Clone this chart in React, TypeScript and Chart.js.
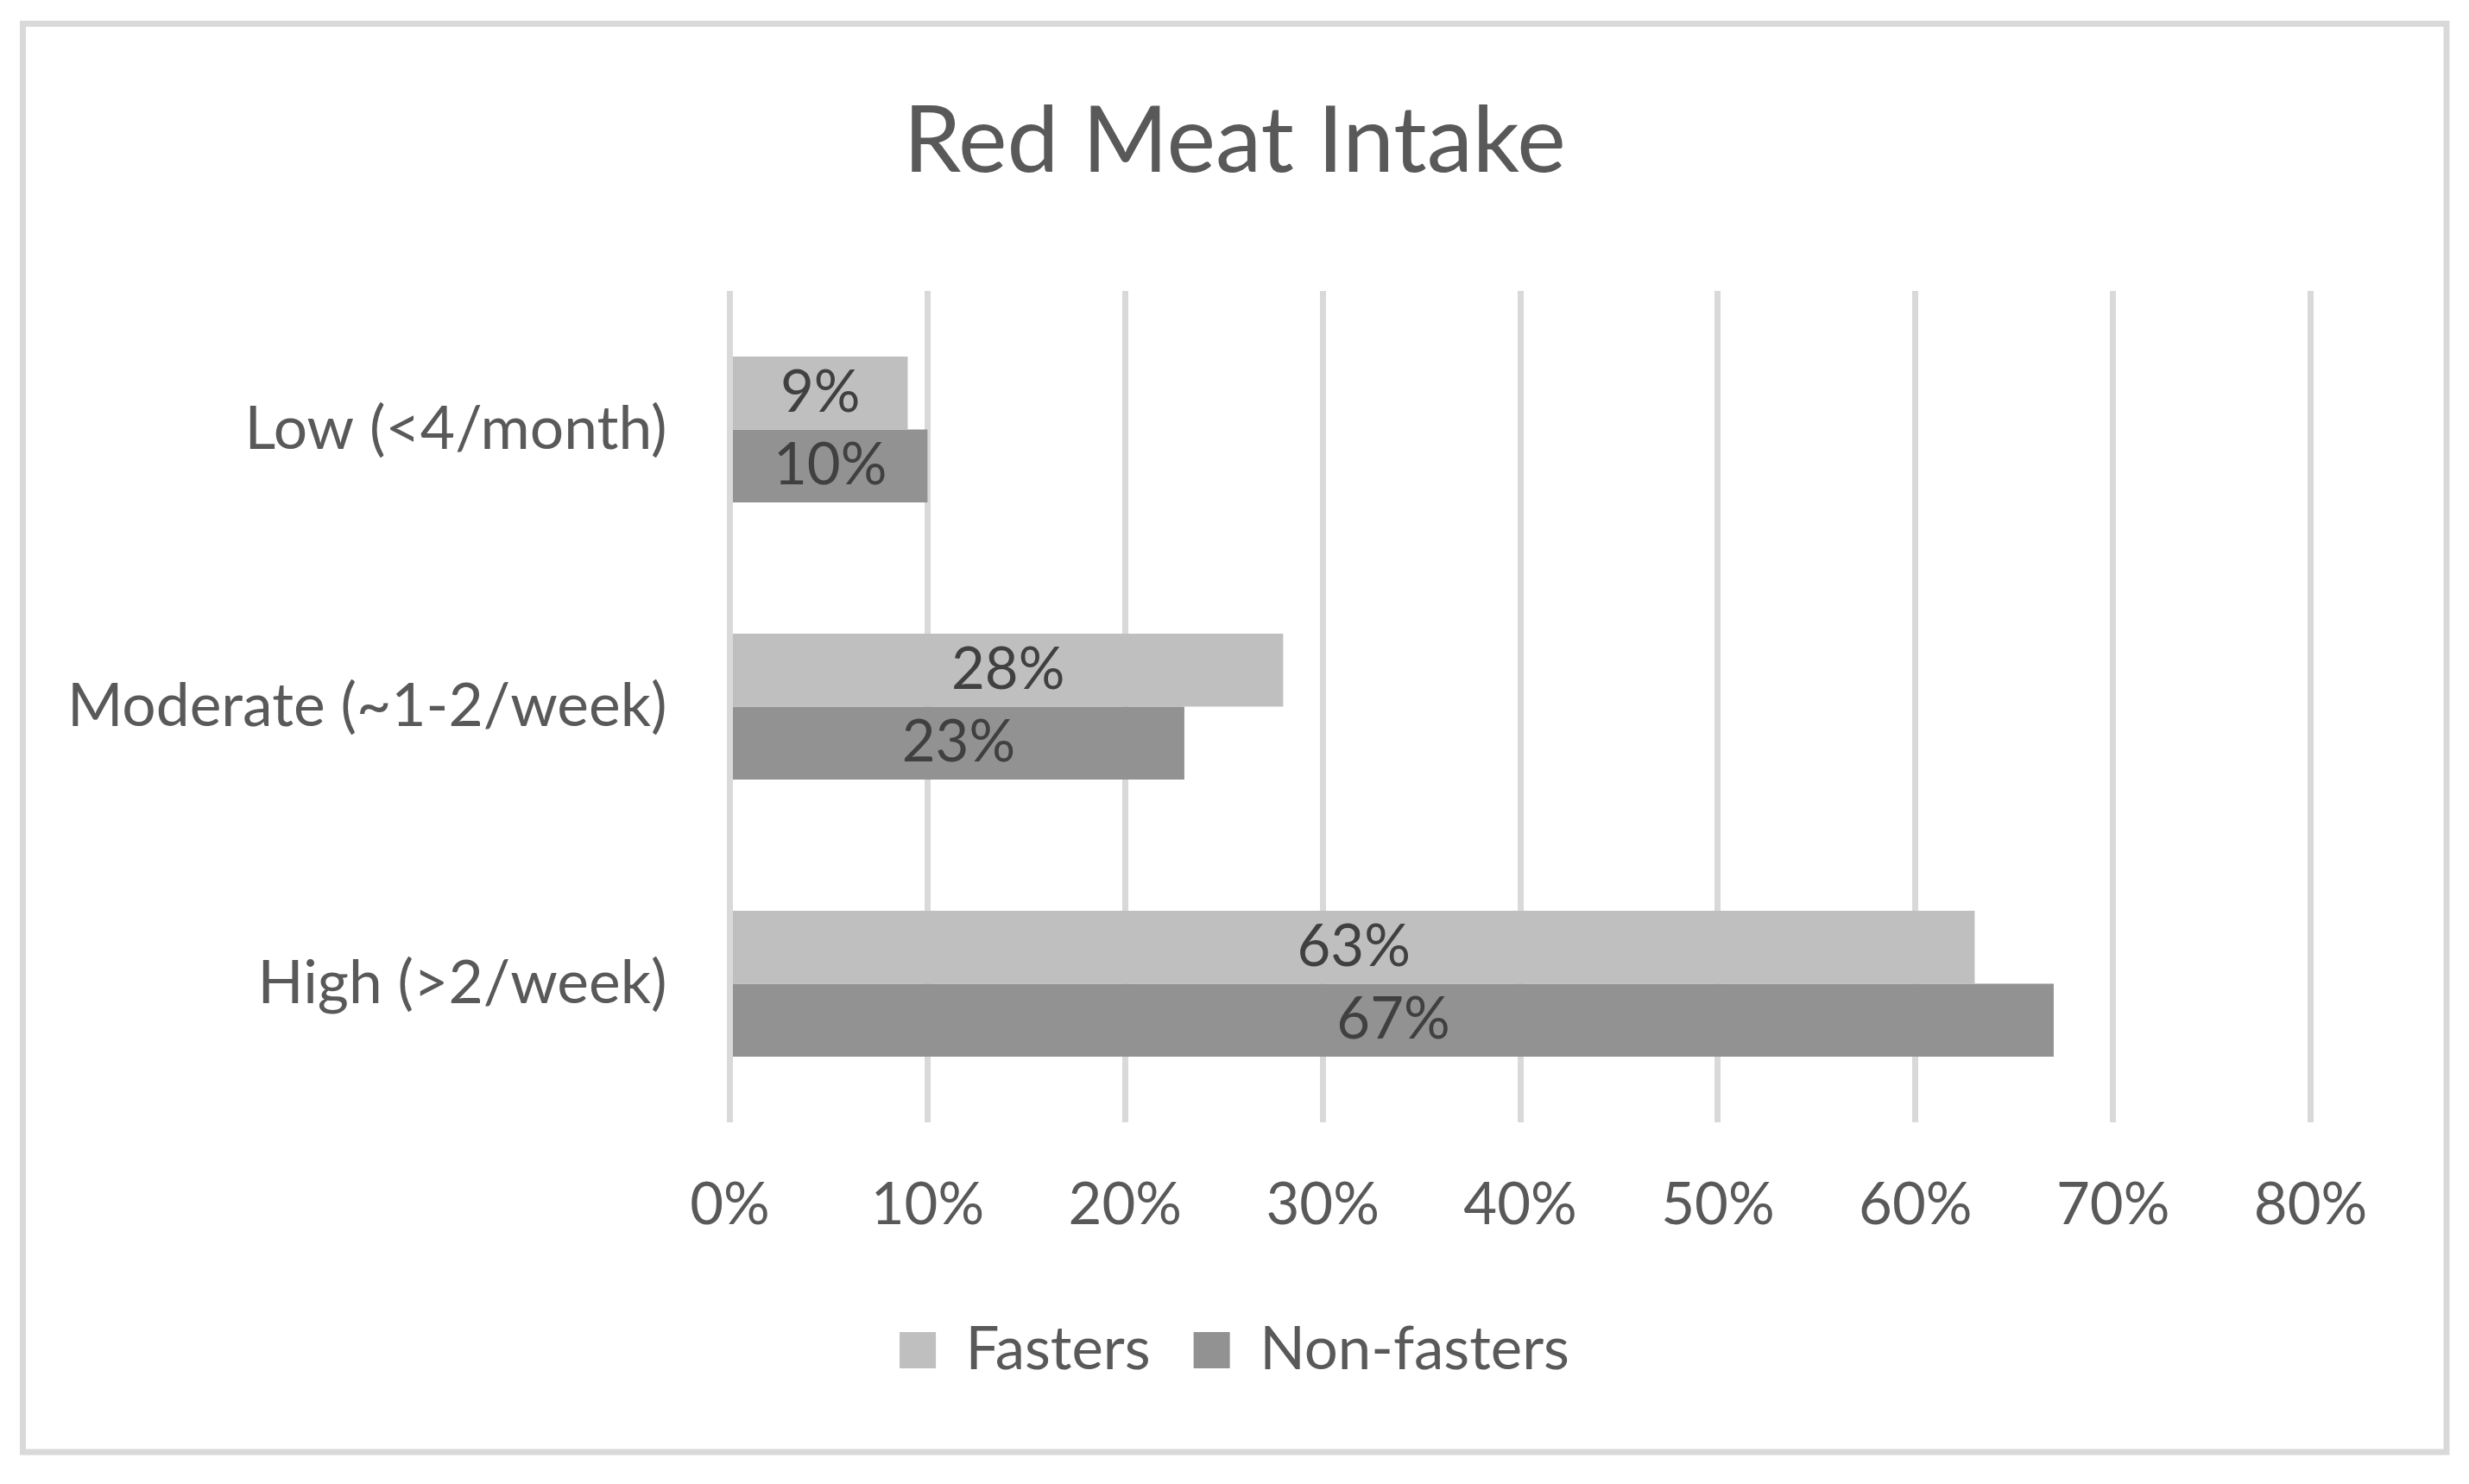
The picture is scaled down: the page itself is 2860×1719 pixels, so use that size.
import React, { useEffect, useRef } from "react";
import { Chart, registerables } from "chart.js";

Chart.register(...registerables);

const categories = ["Low (<4/month)", "Moderate (~1-2/week)", "High (>2/week)"];
const fasters = [9, 28, 63];
const nonFasters = [10, 23, 67];
const seriesNames = ["Fasters", "Non-fasters"];
const xTicksMax = 80;
const xTickStep = 10;

const FONT = "Lato";
const TEXT = "#595959";

const borderPlugin = {
  id: "outerBorder",
  afterDraw(chart: any) {
    const ctx = chart.ctx;
    ctx.save();
    ctx.strokeStyle = "#d9d9d9";
    ctx.lineWidth = 7;
    ctx.strokeRect(26.5, 27.5, 2834 - 26.5, 1682 - 27.5);
    ctx.restore();
  },
};

const dataLabelPlugin = {
  id: "barValueLabels",
  afterDatasetsDraw(chart: any) {
    const ctx = chart.ctx;
    ctx.save();
    ctx.fillStyle = "#404040";
    ctx.font = `67px ${FONT}`;
    ctx.textAlign = "center";
    ctx.textBaseline = "middle";
    chart.data.datasets.forEach((ds: any, di: number) => {
      const meta = chart.getDatasetMeta(di);
      meta.data.forEach((el: any, i: number) => {
        const cx = (el.base + el.x) / 2;
        ctx.fillText(`${ds.data[i]}%`, cx, el.y);
      });
    });
    ctx.restore();
  },
};

export default function App() {
  const ref = useRef<HTMLCanvasElement | null>(null);

  useEffect(() => {
    document.body.style.margin = "0";
    let chart: Chart | null = null;
    let cancelled = false;
    const make = () => {
      if (cancelled || !ref.current) return;
      chart = new Chart(ref.current, {
        type: "bar",
        data: {
          labels: categories,
          datasets: [
            {
              label: seriesNames[0],
              data: fasters,
              backgroundColor: "#bfbfbf",
              borderWidth: 0,
              barPercentage: 1,
              categoryPercentage: 0.5265,
            },
            {
              label: seriesNames[1],
              data: nonFasters,
              backgroundColor: "#929292",
              borderWidth: 0,
              barPercentage: 1,
              categoryPercentage: 0.5265,
            },
          ],
        },
        options: {
          indexAxis: "y",
          animation: false,
          responsive: true,
          maintainAspectRatio: false,
          layout: { padding: { top: 0, left: 0, right: 0, bottom: 110.5 } },
          scales: {
            x: {
              min: 0,
              max: xTicksMax,
              grid: { color: "#d9d9d9", lineWidth: 7, drawTicks: false },
              border: { display: false },
              ticks: {
                stepSize: xTickStep,
                padding: 56,
                color: TEXT,
                font: { family: FONT, size: 67 },
                callback: (v: any) => `${v}%`,
              },
              afterFit: (s: any) => {
                s.height = 179.5;
              },
            },
            y: {
              grid: { display: false, drawTicks: false },
              border: { display: false },
              ticks: {
                padding: 73,
                color: TEXT,
                font: { family: FONT, size: 69.5 },
              },
              afterFit: (s: any) => {
                s.width = 845.5;
              },
            },
            yR: {
              type: "category",
              position: "right",
              display: true,
              grid: { display: false, drawTicks: false },
              border: { display: false },
              ticks: { display: false },
              afterFit: (s: any) => {
                s.width = 183.5;
              },
            },
          },
          plugins: {
            title: {
              display: true,
              text: "Red Meat Intake",
              color: TEXT,
              font: { family: FONT, size: 107, weight: "normal" },
              padding: { top: 100, bottom: 108.6 },
            },
            legend: {
              display: true,
              position: "bottom",
              align: "center",
              labels: {
                boxWidth: 42,
                boxHeight: 42,
                padding: 50,
                color: TEXT,
                font: { family: FONT, size: 69 },
              },
            },
            tooltip: { enabled: false },
          },
        },
        plugins: [dataLabelPlugin, borderPlugin],
      });
    };
    const fontsApi = (document as any).fonts;
    if (fontsApi && fontsApi.load) {
      Promise.all([
        fontsApi.load(`67px ${FONT}`),
        fontsApi.load(`107px ${FONT}`),
      ])
        .catch(() => {})
        .then(make);
    } else {
      make();
    }
    return () => {
      cancelled = true;
      if (chart) chart.destroy();
    };
  }, []);

  return (
    <div
      style={{
        position: "fixed",
        left: 0,
        top: 0,
        width: "2860px",
        height: "1719px",
        background: "#ffffff",
      }}
    >
      <canvas ref={ref} />
    </div>
  );
}
